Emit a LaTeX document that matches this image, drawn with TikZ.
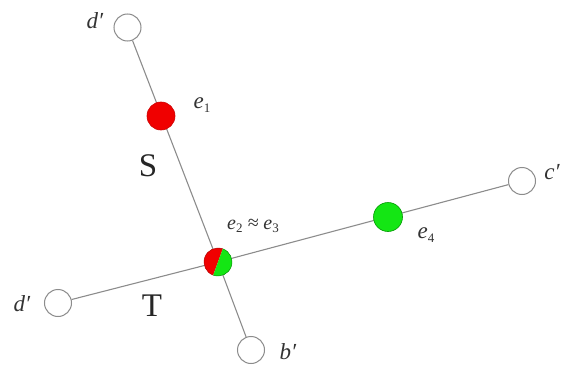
\documentclass[tikz,border=0pt]{standalone}
\usepackage{fontspec}
\setmainfont{Liberation Serif}
\definecolor{myred}{RGB}{240,0,0}
\definecolor{mygreen}{RGB}{20,230,20}
\definecolor{edgegray}{RGB}{140,140,140}
\newcommand{\mysub}[1]{\raisebox{-0.35ex}{\upshape\fontsize{13}{13}\selectfont #1}}
\begin{document}
\begin{tikzpicture}[x=1pt,y=-1pt,
  leaf/.style={circle,draw=edgegray,line width=1pt,fill=white,minimum size=27pt,inner sep=0pt},
  redv/.style={circle,draw=red!80!black,line width=0.6pt,fill=myred,minimum size=28pt,inner sep=0pt},
  greenv/.style={circle,draw=green!60!black,line width=0.6pt,fill=mygreen,minimum size=29pt,inner sep=0pt},
  mixv/.style={circle,minimum size=28pt,inner sep=0pt},
  edge/.style={draw=edgegray,line width=1.1pt},
  lab/.style={font=\itshape\fontsize{23}{23}\selectfont,text=black!80,inner sep=0pt},
  big/.style={font=\fontsize{33}{33}\selectfont,text=black!85,inner sep=0pt}]
\useasboundingbox (0,0) rectangle (563,372);
\node[leaf] (a) at (127.5,27.5) {};
\node[leaf] (b) at (251,350) {};
\node[leaf] (d) at (58,303) {};
\node[leaf] (c) at (522,181) {};
\node[mixv] (m) at (218,262) {};
\path[edge] (a) -- (m.center) -- (b);
\path[edge] (d) -- (m.center) -- (c);
\node[redv] (e1) at (161,116) {};
\node[greenv] (e4) at (388,217) {};
\fill[myred] (m.center) ++(70:14pt) arc[start angle=70,end angle=250,radius=14pt] -- cycle;
\fill[mygreen] (m.center) ++(250:14pt) arc[start angle=250,end angle=430,radius=14pt] -- cycle;
\draw[red!70!black,line width=0.5pt] (m.center) ++(70:14pt) arc[start angle=70,end angle=250,radius=14pt];
\draw[green!55!black,line width=0.5pt] (m.center) ++(250:14pt) arc[start angle=250,end angle=430,radius=14pt];
\node[lab] (la) at (95,21) {d′};
\node[lab] (le1) at (202,105) {e\mysub{1}};
\node[big] (lS) at (148,166) {S};
\node[lab,font=\itshape\fontsize{20}{20}\selectfont] (le23) at (253,226) {e\mysub{2} ≈ e\mysub{3}};
\node[lab] (le4) at (426,235) {e\mysub{4}};
\node[lab] (lc) at (552,172) {c′};
\node[lab] (ld) at (22,304) {d′};
\node[big] (lT) at (152,306) {T};
\node[lab] (lb) at (288,352) {b′};
\end{tikzpicture}
\end{document}
